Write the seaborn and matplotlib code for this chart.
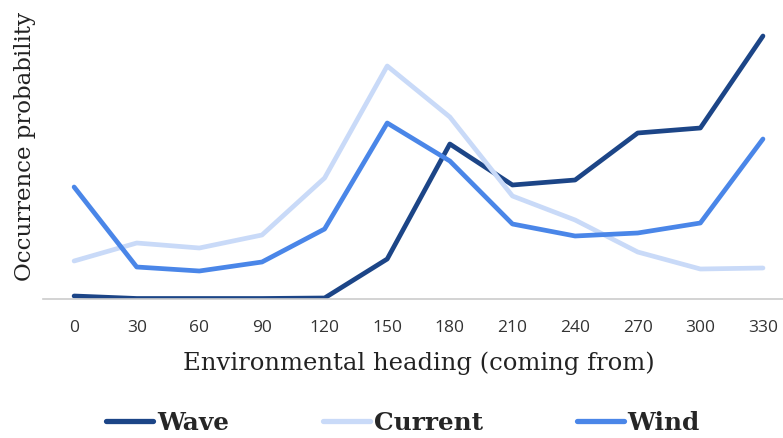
import numpy as np
import pandas as pd
import matplotlib
matplotlib.use("Agg")
import matplotlib.pyplot as plt
import seaborn as sns

headings = [0, 30, 60, 90, 120, 150, 180, 210, 240, 270, 300, 330]
wave = [0.003, 0.0005, 0.0005, 0.0005, 0.001, 0.040, 0.155, 0.114, 0.119, 0.166, 0.171, 0.263]
current = [0.038, 0.056, 0.051, 0.064, 0.121, 0.233, 0.182, 0.103, 0.079, 0.047, 0.030, 0.031]
wind = [0.112, 0.032, 0.028, 0.037, 0.070, 0.176, 0.138, 0.075, 0.063, 0.066, 0.076, 0.160]
series_names = ["Wave", "Current", "Wind"]
colors = ["#1c4587", "#c9daf8", "#4a86e8"]

df = pd.DataFrame({
    "heading": headings * 3,
    "prob": wave + current + wind,
    "series": [n for n in series_names for _ in headings],
})

sns.set_theme(style="white")
plt.rcParams["font.family"] = ["DejaVu Serif"]

fig = plt.figure(figsize=(7.83, 4.38), dpi=100)
ax = fig.add_axes([43 / 783, 139 / 438, 740 / 783, 294 / 438])

sns.lineplot(data=df, x="heading", y="prob", hue="series", hue_order=series_names,
             palette=colors, linewidth=3.4, ax=ax, legend=False,
             solid_capstyle="round", solid_joinstyle="round")

ax.set_xlim(-14.9, 339.6)
ax.set_ylim(0, 0.294)
ax.set_xticks(headings)
ax.set_xticklabels([str(h) for h in headings], fontsize=12.5, color="#333333",
                   family="Open Sans")
ax.set_yticks([])
ax.tick_params(axis="x", length=0, pad=15)
for s in ["top", "right", "left"]:
    ax.spines[s].set_visible(False)
ax.spines["bottom"].set_color("#cccccc")
ax.spines["bottom"].set_linewidth(1.2)
ax.set_xlabel("Environmental heading (coming from)", fontsize=17.5, color="#222222")
ax.set_ylabel("Occurrence probability", fontsize=16.5, color="#222222")
ax.xaxis.set_label_coords(0.508, -0.18)
ax.yaxis.set_label_coords(-0.0095, 0.52)

handles = [plt.Line2D([], [], color=c, linewidth=3.8, solid_capstyle="round") for c in colors]
fig.legend(handles, series_names, loc="center", bbox_to_anchor=(403 / 783, 15 / 438), ncol=3,
           frameon=False, prop={"weight": "bold", "size": 17.8, "family": "DejaVu Serif"},
           handlelength=1.9, handletextpad=0.15, columnspacing=3.8)

fig.savefig("out.png", dpi=100)
